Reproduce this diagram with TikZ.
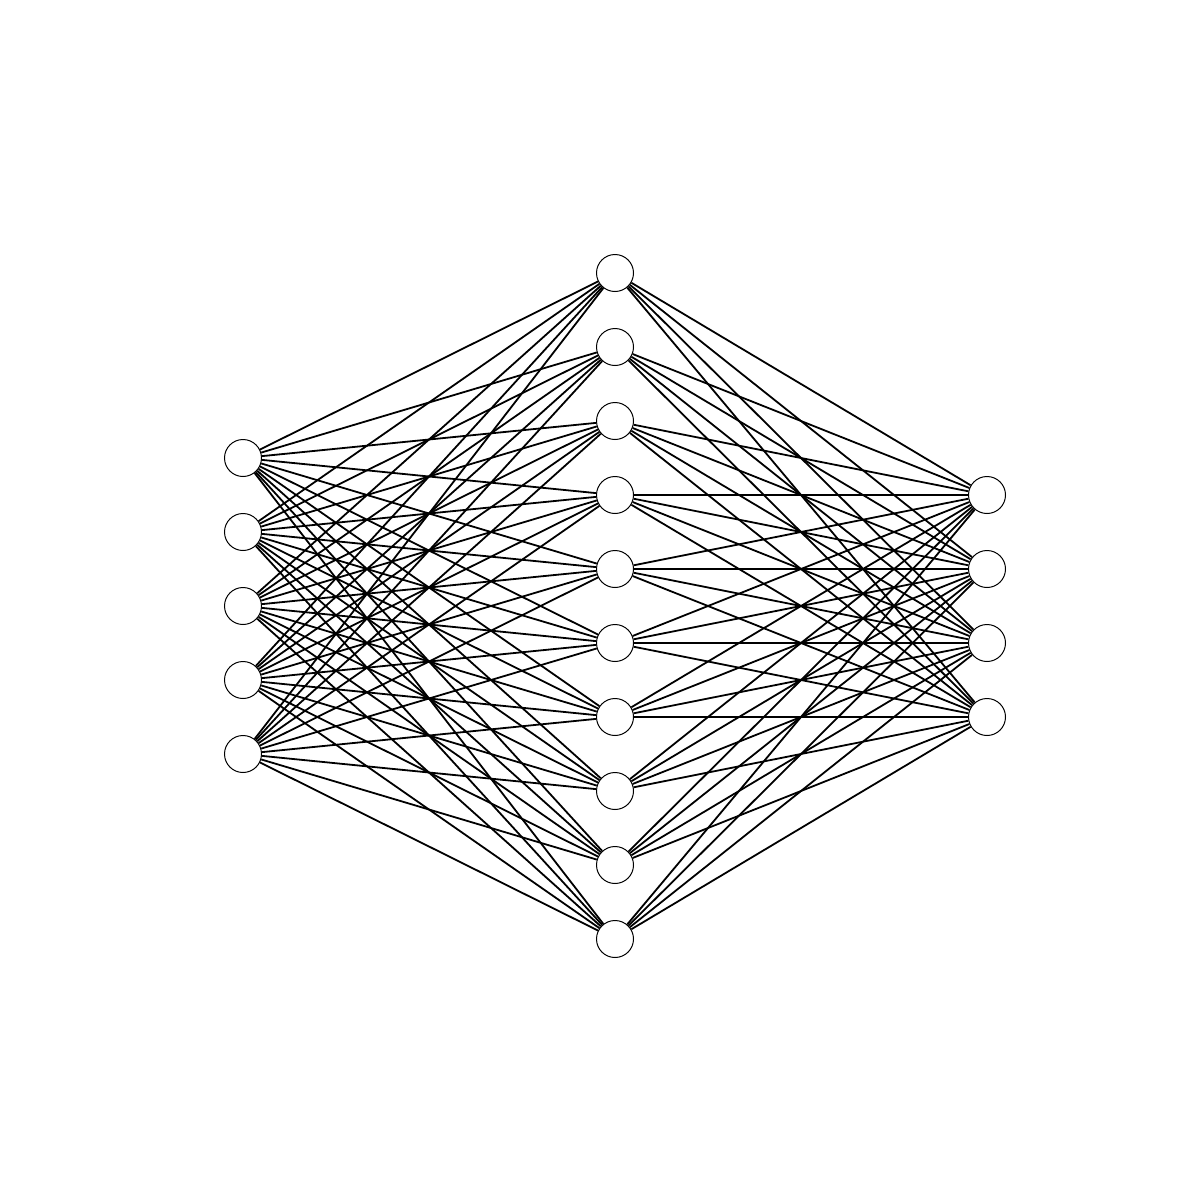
\documentclass[tikz,border=0pt]{standalone}
\begin{document}
\begin{tikzpicture}[x=1pt,y=-1pt,
  neuron/.style={circle,draw=black,fill=white,line width=1pt,minimum size=37pt,inner sep=0pt},
  link/.style={draw=black,line width=1.8pt}]
\useasboundingbox (0,0) rectangle (1200,1200);
\foreach \i in {1,...,5} \coordinate (pi\i) at (243,{458+74*(\i-1)});
\foreach \j in {1,...,10} \coordinate (ph\j) at (615,{273+74*(\j-1)});
\foreach \k in {1,...,4} \coordinate (po\k) at (987,{495+74*(\k-1)});
\foreach \i in {1,...,5} \node[neuron] (in\i) at (pi\i) {};
\foreach \j in {1,...,10} \node[neuron] (h\j) at (ph\j) {};
\foreach \k in {1,...,4} \node[neuron] (out\k) at (po\k) {};
\foreach \i in {1,...,5} \foreach \j in {1,...,10} \draw[link] (in\i) -- (h\j);
\foreach \j in {1,...,10} \foreach \k in {1,...,4} \draw[link] (h\j) -- (out\k);
\end{tikzpicture}
\end{document}
